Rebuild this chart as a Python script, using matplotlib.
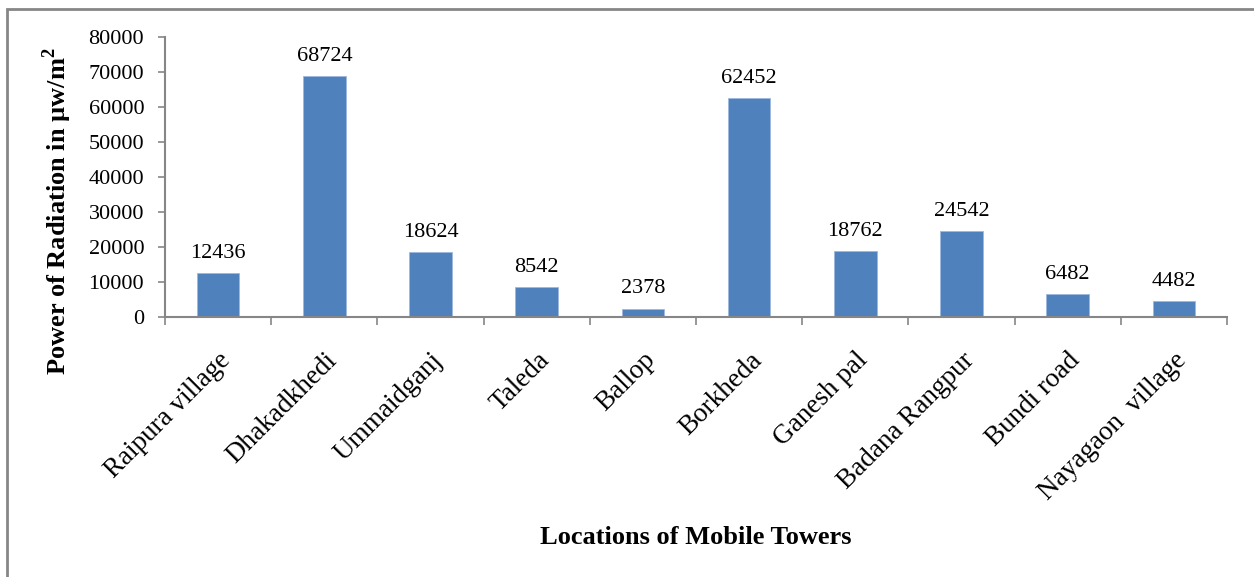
import matplotlib
matplotlib.use('Agg')
import matplotlib.pyplot as plt
from matplotlib.patches import Rectangle

plt.rcParams['font.family'] = ['Liberation Serif', 'DejaVu Serif']
plt.rcParams['mathtext.fontset'] = 'custom'
plt.rcParams['mathtext.rm'] = 'Liberation Serif'
plt.rcParams['mathtext.bf'] = 'Liberation Serif:bold'

locations = ['Raipura village', 'Dhakadkhedi', 'Ummaidganj', 'Taleda', 'Ballop',
             'Borkheda', 'Ganesh pal', 'Badana Rangpur', 'Bundi road', 'Nayagaon  village']
radiation = [12436, 68724, 18624, 8542, 2378, 62452, 18762, 24542, 6482, 4482]
yticks = [0, 10000, 20000, 30000, 40000, 50000, 60000, 70000, 80000]

fig = plt.figure(figsize=(12.54, 5.77), dpi=100)
ax = fig.add_axes([0.1316, 0.4506, 0.9785 - 0.1316, 0.9359 - 0.4506])

grey = '#868686'
x = list(range(len(locations)))
ax.bar(x, radiation, width=0.4, color='#4F81BD', edgecolor='#9DB9DD', linewidth=0.6)
for xi, v in zip(x, radiation):
    ax.annotate(str(v), (xi, v), textcoords='offset points', xytext=(0, 11),
                ha='center', va='baseline', fontsize=16)

ax.set_xlim(-0.5, len(locations) - 0.5)
ax.set_ylim(0, 80000)
ax.set_yticks(yticks)
ax.set_yticklabels([str(t) for t in yticks], fontsize=16)
ax.tick_params(axis='y', length=5, color=grey, width=1.2, pad=10)

# category separators as major ticks, names as minor ticks
ax.set_xticks([i - 0.5 for i in range(len(locations) + 1)])
ax.set_xticklabels([])
ax.set_xticks(x, minor=True)
ax.set_xticklabels(locations, minor=True, rotation=45, ha='right', va='top',
                   rotation_mode='anchor', fontsize=19.5)
ax.tick_params(axis='x', which='major', length=6, color=grey, width=1.2, direction='out')
ax.tick_params(axis='x', which='minor', length=0, pad=22)

for s in ['top', 'right']:
    ax.spines[s].set_visible(False)
for s in ['left', 'bottom']:
    ax.spines[s].set_color(grey)
    ax.spines[s].set_linewidth(1.5)

fig.text(57 / 1254, 1 - 211 / 577, r'Power of Radiation in µw/m$^{\mathbf{2}}$',
         rotation=90, fontsize=19, fontweight='bold', ha='center', va='center')
fig.text(696 / 1254, 1 - 537 / 577, 'Locations of Mobile Towers', fontsize=19,
         fontweight='bold', ha='center', va='center')

fig.patches.append(Rectangle((7 / 1254, -0.1), 1.2, 1 - 9 / 577 + 0.1,
                             transform=fig.transFigure, fill=False,
                             edgecolor=grey, linewidth=2))

fig.savefig('out.png', dpi=100)
